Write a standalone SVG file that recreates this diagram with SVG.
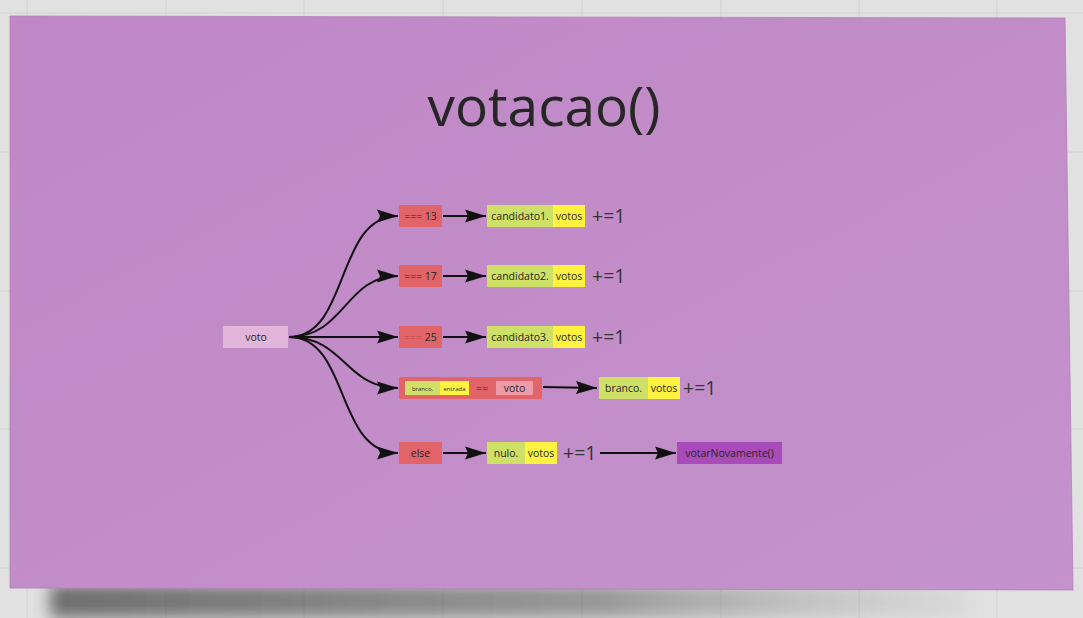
<svg xmlns="http://www.w3.org/2000/svg" width="1083" height="618" viewBox="0 0 1083 618">
<defs>
<marker id="ah" markerUnits="userSpaceOnUse" markerWidth="22" markerHeight="14" viewBox="0 0 22 14" refX="21" refY="7" orient="auto">
<path d="M0,0.5 L21,7 L0,13.5 L3,7 z" fill="#111"/>
</marker>
<linearGradient id="panelg" x1="0" y1="0" x2="1" y2="1">
<stop offset="0" stop-color="#c087c6"/>
<stop offset="1" stop-color="#c492cc"/>
</linearGradient>
<linearGradient id="shadowg" x1="0" y1="0" x2="1" y2="0">
<stop offset="0" stop-color="#444" stop-opacity="0.75"/>
<stop offset="0.6" stop-color="#666" stop-opacity="0.6"/>
<stop offset="1" stop-color="#999" stop-opacity="0.1"/>
</linearGradient>
<filter id="blur" x="-10%" y="-50%" width="120%" height="200%"><feGaussianBlur stdDeviation="8"/></filter>
<style>
.grid{stroke:#d2d2d2;stroke-width:1}
.t{font-family:"Open Sans","Liberation Sans",sans-serif;fill:#262626}
.box{font-size:10.5px}
.red{fill:#e06468}
.grn{fill:#cfe067}
.yel{fill:#fff340}
.pe{font-size:19.5px;fill:#333}
.c{fill:none;stroke:#111;stroke-width:2}
</style>
</defs>
<rect width="1083" height="618" fill="#e1e1e1"/>
<g id="grid">
<line class="grid" x1="27" y1="0" x2="27" y2="618"/>
<line class="grid" x1="166" y1="0" x2="166" y2="618"/>
<line class="grid" x1="304" y1="0" x2="304" y2="618"/>
<line class="grid" x1="443" y1="0" x2="443" y2="618"/>
<line class="grid" x1="582" y1="0" x2="582" y2="618"/>
<line class="grid" x1="721" y1="0" x2="721" y2="618"/>
<line class="grid" x1="859" y1="0" x2="859" y2="618"/>
<line class="grid" x1="997" y1="0" x2="997" y2="618"/>
<line class="grid" x1="0" y1="13" x2="1083" y2="13"/>
<line class="grid" x1="0" y1="152" x2="1083" y2="152"/>
<line class="grid" x1="0" y1="291" x2="1083" y2="291"/>
<line class="grid" x1="0" y1="429" x2="1083" y2="429"/>
<line class="grid" x1="0" y1="568" x2="1083" y2="568"/>
</g>
<rect x="50" y="584" width="920" height="34" fill="url(#shadowg)" filter="url(#blur)"/>
<polygon id="panel" points="10,16 1065,18 1073,590 10,588" fill="url(#panelg)" stroke="#b57fbd" stroke-width="0.8"/>
<text id="title" class="t" x="544" y="126" font-size="55" text-anchor="middle" fill="#1e1e1e">votacao()</text>

<g id="connectors">
<path class="c" d="M289,337 C350,337 335,216 398,216" marker-end="url(#ah)"/>
<path class="c" d="M289,337 C345,337 345,276 398,276" marker-end="url(#ah)"/>
<path class="c" d="M289,337 L398,337" marker-end="url(#ah)"/>
<path class="c" d="M289,337 C345,337 345,388 398,388" marker-end="url(#ah)"/>
<path class="c" d="M289,337 C350,337 335,453 398,453" marker-end="url(#ah)"/>
<path class="c" d="M443,216 L486,216" marker-end="url(#ah)"/>
<path class="c" d="M443,276 L486,276" marker-end="url(#ah)"/>
<path class="c" d="M443,337 L486,337" marker-end="url(#ah)"/>
<path class="c" d="M543,387 L597,388" marker-end="url(#ah)"/>
<path class="c" d="M443,453 L486,453" marker-end="url(#ah)"/>
<path class="c" d="M600,453 L676,453" marker-end="url(#ah)"/>
</g>

<g id="voto">
<rect x="223" y="326" width="65" height="22" fill="#e2b6da"/>
<text class="t box" x="256" y="341" text-anchor="middle">voto</text>
</g>

<g id="eq13">
<rect class="red" x="399" y="205" width="43" height="22"/>
<text class="t box" x="420.5" y="220" text-anchor="middle">=== 13</text>
</g>
<g id="eq17">
<rect class="red" x="399" y="265" width="43" height="22"/>
<text class="t box" x="420.5" y="280" text-anchor="middle">=== 17</text>
</g>
<g id="eq25">
<rect class="red" x="399" y="326" width="43" height="22"/>
<text class="t box" x="420.5" y="341" text-anchor="middle"><tspan fill="#c04a50">===</tspan> 25</text>
</g>
<g id="brancoCond">
<rect class="red" x="399" y="377" width="143" height="22"/>
<rect class="grn" x="405" y="381" width="35" height="14"/>
<text class="t" x="422.5" y="390.5" font-size="6" text-anchor="middle">branco.</text>
<rect class="yel" x="440" y="381" width="29" height="14"/>
<text class="t" x="454.5" y="390.5" font-size="6" text-anchor="middle">entrada</text>
<text class="t" x="482" y="392" font-size="11" text-anchor="middle">==</text>
<rect x="496" y="381" width="37" height="14" fill="#ee9ba8"/>
<text class="t box" x="514.5" y="392" text-anchor="middle">voto</text>
</g>
<g id="else">
<rect class="red" x="399" y="442" width="43" height="22"/>
<text class="t box" x="420.5" y="457" text-anchor="middle">else</text>
</g>

<g id="cand1">
<rect class="grn" x="487" y="205" width="66" height="22"/>
<rect class="yel" x="553" y="205" width="32" height="22"/>
<text class="t box" x="520" y="220" text-anchor="middle">candidato1.</text>
<text class="t box" x="569" y="220" text-anchor="middle">votos</text>
<text class="t pe" x="592" y="223">+=1</text>
</g>
<g id="cand2">
<rect class="grn" x="487" y="265" width="66" height="22"/>
<rect class="yel" x="553" y="265" width="32" height="22"/>
<text class="t box" x="520" y="280" text-anchor="middle">candidato2.</text>
<text class="t box" x="569" y="280" text-anchor="middle">votos</text>
<text class="t pe" x="592" y="283">+=1</text>
</g>
<g id="cand3">
<rect class="grn" x="487" y="326" width="66" height="22"/>
<rect class="yel" x="553" y="326" width="32" height="22"/>
<text class="t box" x="520" y="341" text-anchor="middle">candidato3.</text>
<text class="t box" x="569" y="341" text-anchor="middle">votos</text>
<text class="t pe" x="592" y="344">+=1</text>
</g>
<g id="branco">
<rect class="grn" x="599" y="377" width="49" height="22"/>
<rect class="yel" x="648" y="377" width="32" height="22"/>
<text class="t box" x="623.5" y="392" text-anchor="middle">branco.</text>
<text class="t box" x="664" y="392" text-anchor="middle">votos</text>
<text class="t pe" x="683" y="395">+=1</text>
</g>
<g id="nulo">
<rect class="grn" x="487" y="442" width="38" height="22"/>
<rect class="yel" x="525" y="442" width="32" height="22"/>
<text class="t box" x="506" y="457" text-anchor="middle">nulo.</text>
<text class="t box" x="541" y="457" text-anchor="middle">votos</text>
<text class="t pe" x="563" y="460">+=1</text>
</g>
<g id="votarNovamente">
<rect x="677" y="442" width="105" height="22" fill="#a94cba"/>
<text class="t box" x="729.5" y="457" text-anchor="middle">votarNovamente()</text>
</g>
</svg>
